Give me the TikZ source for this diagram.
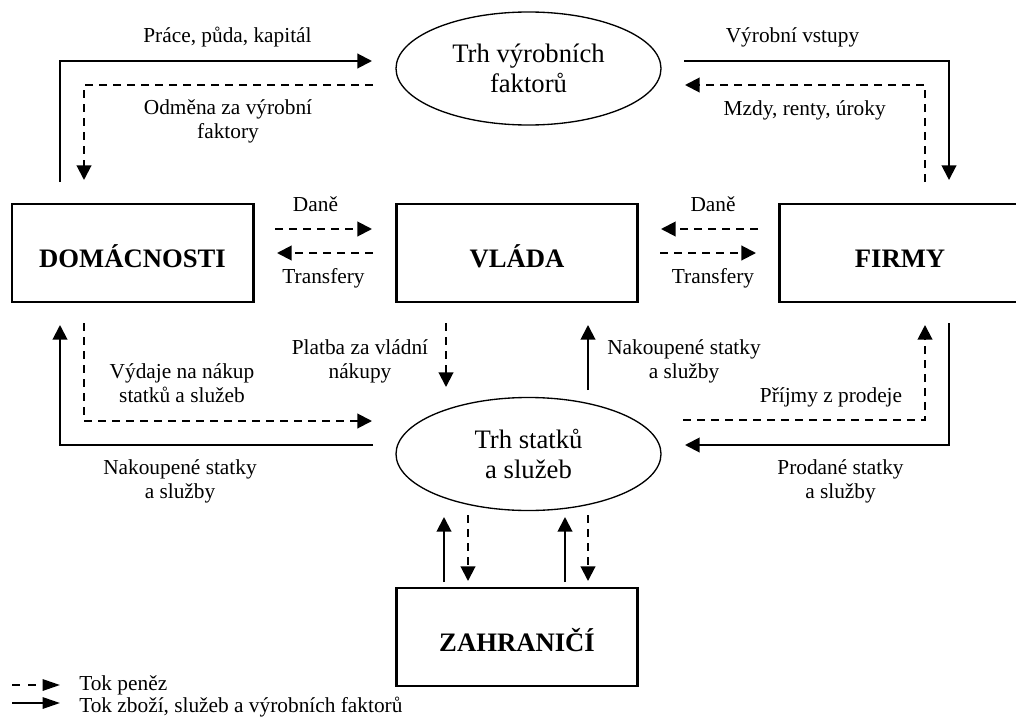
\documentclass[tikz,border=0pt]{standalone}
\usepackage{fontspec}
\setmainfont{Liberation Serif}
\usetikzlibrary{arrows.meta,shapes.geometric}
\begin{document}
\begin{tikzpicture}[x=0.75pt,y=-0.75pt,
  box/.style={draw, line width=2pt, rectangle, minimum width=181pt, minimum height=73.5pt, inner sep=0pt,
              text height=21pt, text depth=0pt, font=\fontsize{20}{24}\selectfont\bfseries},
  market/.style={draw, line width=1pt, ellipse, minimum width=198.75pt, minimum height=84.75pt, inner sep=0pt,
              align=center, font=\fontsize{20}{22}\selectfont},
  lab/.style={font=\fontsize{16}{17.5}\selectfont, align=center, inner sep=0pt, anchor=base},
  leg/.style={font=\fontsize{16}{17.5}\selectfont, inner sep=0pt, anchor=base west},
  goods/.style={line width=1.5pt, -{Triangle[length=11pt,width=11pt]}},
  money/.style={line width=1.5pt, dash pattern=on 6pt off 4.5pt, -{Triangle[length=11pt,width=11pt]}},
  legmoney/.style={line width=1.5pt, dash pattern=on 6pt off 6pt, -{Triangle[length=13pt,width=8.5pt]}},
  leggoods/.style={line width=1.5pt, -{Triangle[length=13pt,width=8.5pt]}}
]
\useasboundingbox (0,0) rectangle (1016,717);
\clip (0,0) rectangle (1016,717);

% nodes
\node[market] (tvf) at (528.5,68.5) {Trh výrobních\\faktorů};
\node[market] (tss) at (528.5,454) {Trh statků\\a služeb};
\node[box] (dom) at (132.5,253) {DOMÁCNOSTI};
\node[box] (vla) at (517,253) {VLÁDA};
\node[box] (fir) at (900,253) {FIRMY};
\node[box] (zah) at (517,637) {ZAHRANIČÍ};

% coordinates
\coordinate (a1) at (60,182);  \coordinate (a2) at (60,61);   \coordinate (a3) at (372,61);
\coordinate (b1) at (373,85);  \coordinate (b2) at (84,85);   \coordinate (b3) at (84,180);
\coordinate (c1) at (684,61);  \coordinate (c2) at (949,61);  \coordinate (c3) at (949,180);
\coordinate (d1) at (925,182); \coordinate (d2) at (925,85);  \coordinate (d3) at (685,85);
\coordinate (e1) at (275,229); \coordinate (e2) at (372,229);
\coordinate (f1) at (373,253); \coordinate (f2) at (277,253);
\coordinate (g1) at (758,229); \coordinate (g2) at (661,229);
\coordinate (h1) at (660,253); \coordinate (h2) at (756,253);
\coordinate (i1) at (373,445); \coordinate (i2) at (60,445);  \coordinate (i3) at (60,325);
\coordinate (j1) at (84,323);  \coordinate (j2) at (84,421);  \coordinate (j3) at (372,421);
\coordinate (k1) at (446,323); \coordinate (k2) at (446,387);
\coordinate (l1) at (588,390); \coordinate (l2) at (588,325);
\coordinate (m1) at (683,420); \coordinate (m2) at (925,420); \coordinate (m3) at (925,325);
\coordinate (n1) at (949,323); \coordinate (n2) at (949,445); \coordinate (n3) at (685,445);
\coordinate (o1) at (444,582); \coordinate (o2) at (444,517);
\coordinate (p1) at (468,515); \coordinate (p2) at (468,581);
\coordinate (q1) at (565,582); \coordinate (q2) at (565,517);
\coordinate (r1) at (588,515); \coordinate (r2) at (588,581);
\coordinate (s1) at (12,685);  \coordinate (s2) at (60,685);
\coordinate (t1) at (12,703);  \coordinate (t2) at (60,703);

% connectors
\draw[goods] (a1) -- (a2) -- (a3);
\draw[money] (b1) -- (b2) -- (b3);
\draw[goods] (c1) -- (c2) -- (c3);
\draw[money] (d1) -- (d2) -- (d3);
\draw[money] (e1) -- (e2);
\draw[money] (f1) -- (f2);
\draw[money] (g1) -- (g2);
\draw[money] (h1) -- (h2);
\draw[goods] (i1) -- (i2) -- (i3);
\draw[money] (j1) -- (j2) -- (j3);
\draw[money] (k1) -- (k2);
\draw[goods] (l1) -- (l2);
\draw[money] (m1) -- (m2) -- (m3);
\draw[goods] (n1) -- (n2) -- (n3);
\draw[goods] (o1) -- (o2);
\draw[money] (p1) -- (p2);
\draw[goods] (q1) -- (q2);
\draw[money] (r1) -- (r2);

% labels (base anchor = baseline of last line)
\node[lab] (L1) at (227.5,43) {Práce, půda, kapitál};
\node[lab] (L2) at (228,138) {Odměna za výrobní\\faktory};
\node[lab] (L3) at (792.5,43) {Výrobní vstupy};
\node[lab] (L4) at (804.7,115) {Mzdy, renty, úroky};
\node[lab] (L5) at (315.5,211) {Daně};
\node[lab] (L6) at (323.5,283) {Transfery};
\node[lab] (L7) at (713,211) {Daně};
\node[lab] (L8) at (713,283) {Transfery};
\node[lab] (L9) at (360,378) {Platba za vládní\\nákupy};
\node[lab] (L10) at (182,402) {Výdaje na nákup\\statků a služeb};
\node[lab] (L11) at (180,498) {Nakoupené statky\\a služby};
\node[lab] (L12) at (684,378) {Nakoupené statky\\a služby};
\node[lab] (L13) at (831,402) {Příjmy z prodeje};
\node[lab] (L14) at (840.5,498) {Prodané statky\\a služby};

% legend
\draw[legmoney] (s1) -- (s2);
\draw[leggoods] (t1) -- (t2);
\node[leg] (g1t) at (79,690) {Tok peněz};
\node[leg] (g2t) at (79,712) {Tok zboží, služeb a výrobních faktorů};
\end{tikzpicture}
\end{document}
